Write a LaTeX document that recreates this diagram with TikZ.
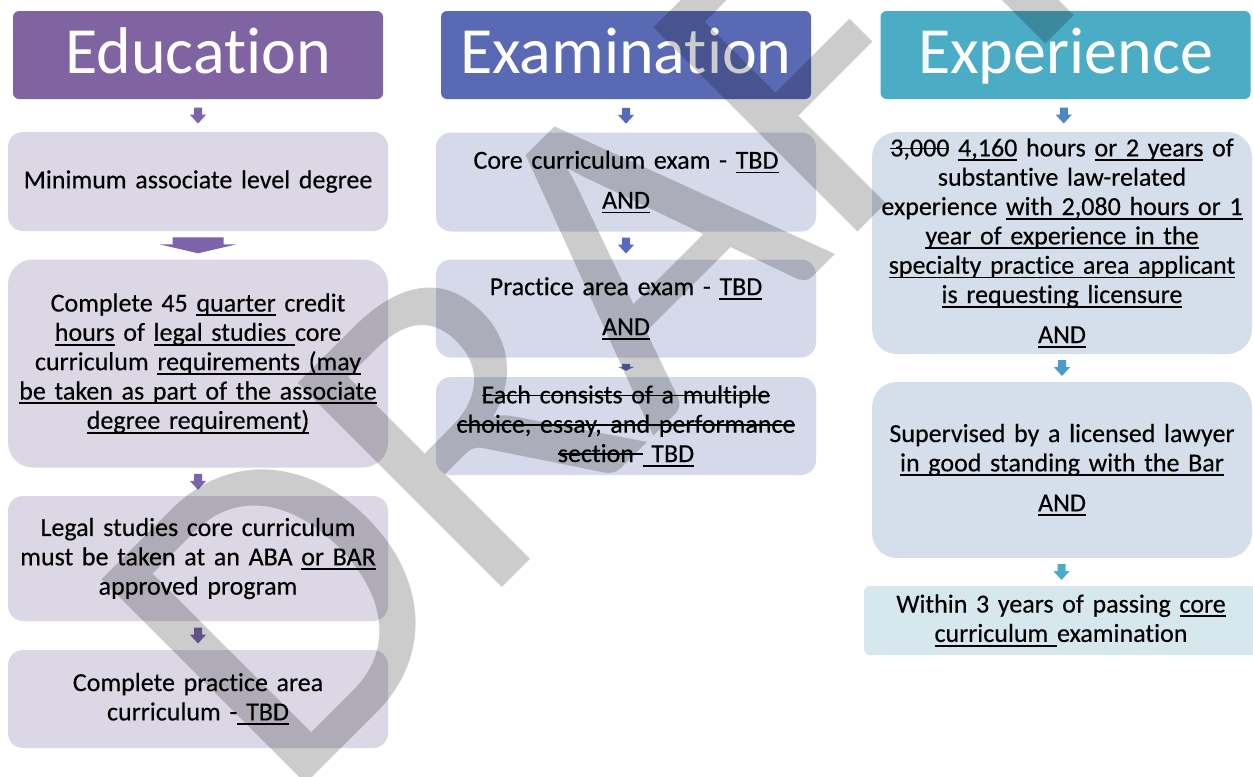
\documentclass[tikz,border=0pt]{standalone}
\usepackage{fontspec}
\setmainfont{Carlito}[Ligatures={NoCommon}]
\newfontfamily\bodyfont{Carlito}[Ligatures={NoCommon}, FakeBold=0.3]
\usetikzlibrary{calc}
\newsavebox{\ulbox}
\newcommand{\uline}[1]{\leavevmode\sbox{\ulbox}{#1}\rlap{\rule[-3.5pt]{\wd\ulbox}{1.3pt}}\usebox{\ulbox}}
\newcommand{\sout}[1]{\leavevmode\sbox{\ulbox}{#1}\rlap{\rule[5.3pt]{\wd\ulbox}{1.2pt}}\usebox{\ulbox}}
\definecolor{eduHc}{RGB}{128,100,162}
\definecolor{exaHc}{RGB}{89,105,179}
\definecolor{expHc}{RGB}{75,172,198}
\definecolor{eduB}{RGB}{219,215,229}
\definecolor{exaB}{RGB}{214,217,233}
\definecolor{expB}{RGB}{212,223,235}
\definecolor{expB3}{RGB}{215,231,238}
\definecolor{eduA}{RGB}{124,99,172}
\definecolor{exaA}{RGB}{88,106,188}
\definecolor{expA1}{RGB}{79,134,192}
\definecolor{expA2}{RGB}{76,154,200}
\definecolor{expA3}{RGB}{75,172,200}
\newcommand{\dnarrow}[6]{%
  \fill[#3] ($(#1.south)!0.5!(#2.north)$) ++({-#4},{-#6/2}) -- ++({2*#4},0) -- ++(0,{0.45*#6}) -- ++({#5-#4},0) -- ++({-#5},{0.55*#6}) -- ++({-#5},{-0.55*#6}) -- ++({#5-#4},0) -- cycle;}
\begin{document}
\begin{tikzpicture}[x=0.75pt,y=-0.75pt,
  hdr/.style={rounded corners=4.5pt, inner sep=0, minimum height=66pt, minimum width=277.5pt, text height=40pt, text depth=13pt, text=white, font=\fontsize{49.5}{52}\selectfont},
  bx/.style={inner sep=0, align=center, text width=285pt, minimum height={#1*0.75pt}, font=\bodyfont\fontsize{19.5}{22}\selectfont, rounded corners=11.25pt},
  tall/.style={rounded corners=18.75pt}
]
\fill[white] (0,0) rectangle (1253,776);
\useasboundingbox (0,0) rectangle (1253,776);
\clip (0,0) rectangle (1253,776);

% headers
\node[hdr, fill=eduHc] (eduH) at (198,55) {Education};
\node[hdr, fill=exaHc] (exaH) at (626,55) {Examination};
\node[hdr, fill=expHc] (expH) at (1065.5,55) {Experience};

% Education column
\node[bx=99, fill=eduB] (e1) at (198,181.5) {Minimum associate level degree};
\node[bx=208, fill=eduB, tall] (e2) at (198,363.5) {Complete 45 \uline{quarter} credit\\
\uline{hours} of \uline{legal studies }core\\
curriculum \uline{requirements (may}\\
\uline{be taken as part of the associate}\\
\uline{degree requirement)}};
\node[bx=125, fill=eduB] (e3) at (198,558.5) {Legal studies core curriculum\\
must be taken at an ABA \uline{or BAR}\\
approved program};
\node[bx=98, fill=eduB] (e4) at (198,699) {Complete practice area\\
curriculum -\uline{ TBD}};

% Examination column
\node[bx=99, fill=exaB] (x1) at (626,182) {Core curriculum exam - \uline{TBD}\\[8pt]
\uline{AND}};
\node[bx=98, fill=exaB] (x2) at (626,308.5) {Practice area exam - \uline{TBD}\\[8pt]
\uline{AND}};
\node[bx=98, fill=exaB] (x3) at (626,426) {\sout{Each consists of a multiple}\\
\sout{choice, essay, and performance}\\
\sout{section }\uline{ TBD}};

% Experience column
\node[bx=222, fill=expB, tall] (p1) at (1062,243) {\sout{3,000} \uline{4,160} hours \uline{or 2 years} of\\
substantive law-related\\
experience \uline{with 2,080 hours or 1}\\
\uline{year of experience in the}\\
\uline{specialty practice area applicant}\\
\uline{is requesting licensure}\\[8pt]
\uline{AND}};
\node[bx=176, fill=expB, tall] (p2) at (1062,470) {Supervised by a licensed lawyer\\
\uline{in good standing with the Bar}\\[8pt]
\uline{AND}};
\node[bx=69, fill=expB3, text width=295.5pt, rounded corners=4.5pt] (p3) at (1061,620.5) {Within 3 years of passing \uline{core}\\
\uline{curriculum }examination};

% arrows
\dnarrow{eduH}{e1}{eduA}{4}{8}{16}
\dnarrow{e1}{e2}{eduA}{25.5}{38}{16}
\dnarrow{e2}{e3}{eduA}{4}{8}{16}
\dnarrow{e3}{e4}{eduA}{4}{8}{16}
\dnarrow{exaH}{x1}{exaA}{4}{8}{16}
\dnarrow{x1}{x2}{exaA}{4}{8}{16}
\dnarrow{x2}{x3}{exaA}{4}{8}{7}
\dnarrow{expH}{p1}{expA1}{4}{8}{16}
\dnarrow{p1}{p2}{expA2}{4}{8}{16}
\dnarrow{p2}{p3}{expA3}{4}{8}{16}

% watermark
\node[rotate=45, anchor=base west, inner sep=0, text=black, text opacity=0.2, font=\fontsize{337.5}{340}\selectfont] (wm) at (284,806) {DRAFT};
\end{tikzpicture}
\end{document}
